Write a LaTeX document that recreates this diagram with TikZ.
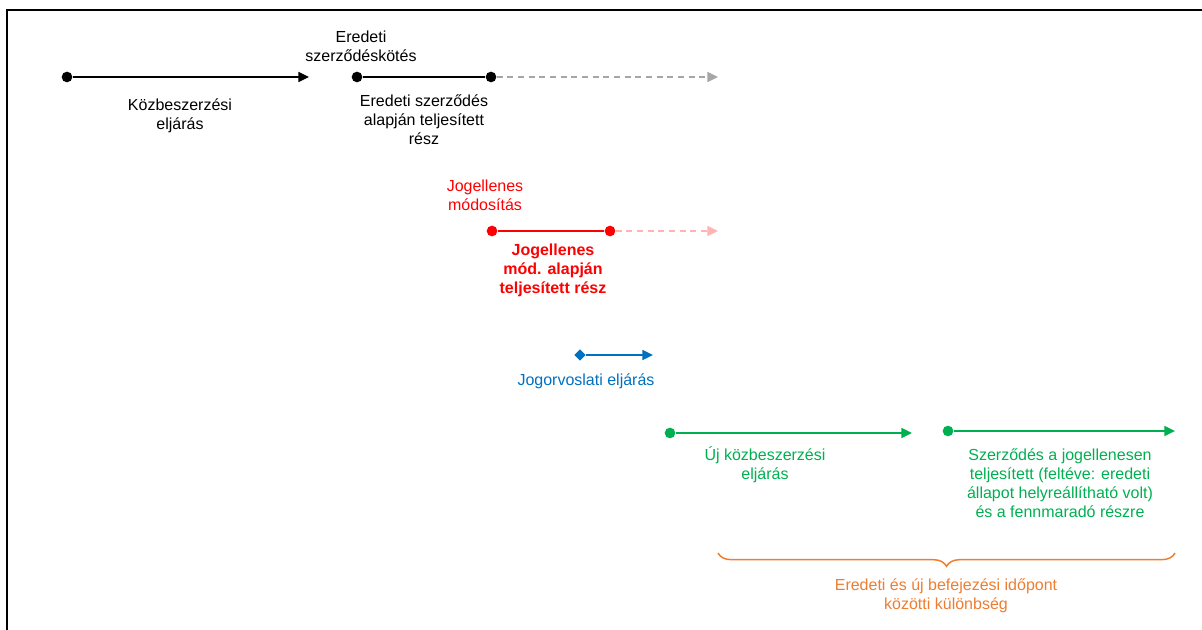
\documentclass[tikz,border=0pt]{standalone}
\usepackage{fontspec}
\setmainfont{Liberation Sans}
\usepackage{tikz}
\usetikzlibrary{arrows.meta,positioning,decorations.pathreplacing,shapes.geometric}
\definecolor{ink}{HTML}{000000}
\definecolor{fade}{HTML}{A6A6A6}
\definecolor{illeg}{HTML}{FF0000}
\definecolor{illegsoft}{HTML}{FFB3B3}
\definecolor{remedy}{HTML}{0070C0}
\definecolor{newproc}{HTML}{00B050}
\definecolor{gap}{HTML}{ED7D31}
\tikzset{
  dot/.style={circle,fill=#1,inner sep=0pt,minimum size=8pt},
  gem/.style={diamond,fill=#1,inner sep=0pt,minimum size=8.5pt},
  seg/.style={line width=1.1pt,color=#1},
  arr/.style={-{Triangle[length=8pt,width=7.5pt]},line width=1.1pt,color=#1},
  darr/.style={-{Triangle[length=8pt,width=7.5pt]},line width=1.1pt,color=#1,dash pattern=on 4.5pt off 3.5pt},
  lbl/.style={align=center,font=\fontsize{12}{14.3}\selectfont,text=#1,inner sep=0pt}}
\begin{document}
\begin{tikzpicture}[x=0.75pt,y=-0.75pt]
\useasboundingbox (0,0) rectangle (1202,630);
\draw[line width=1.8pt] (7,630) -- (7,10) -- (1202,10);
% original procedure and contract
\node[dot=ink] (p0) at (67,77) {};
\coordinate (p1) at (309,77);
\draw[arr=ink] (p0) -- (p1);
\node[lbl=ink] (lp) at (180,116) {Közbeszerzési\\eljárás};
\node[dot=ink] (c0) at (357,77) {};
\node[dot=ink] (c1) at (491,77) {};
\coordinate (c2) at (718,77);
\draw[seg=ink] (c0) -- (c1);
\draw[darr=fade] (c1) -- (c2);
\node[lbl=ink] (lc0) at (361,46) {Eredeti\\szerződéskötés};
\node[lbl=ink] (lc1) at (424,120) {Eredeti szerződés\\alapján teljesített\\rész};
% illegal modification
\node[dot=illeg] (m0) at (492,231) {};
\node[dot=illeg] (m1) at (610,231) {};
\coordinate (m2) at (718,231);
\draw[seg=illeg] (m0) -- (m1);
\draw[darr=illegsoft] (m1) -- (m2);
\node[lbl=illeg] (lm0) at (485,195) {Jogellenes\\módosítás};
\node[lbl=illeg,font=\fontsize{12}{14.3}\selectfont\bfseries] (lm1) at (553,270) {Jogellenes\\mód. alapján\\teljesített rész};
% remedy
\node[gem=remedy] (r0) at (580,355) {};
\coordinate (r1) at (653,355);
\draw[arr=remedy] (r0) -- (r1);
\node[lbl=remedy] (lr) at (586,381) {Jogorvoslati eljárás};
% new procedure and contract
\node[dot=newproc] (n0) at (670,433) {};
\coordinate (n1) at (912,433);
\draw[arr=newproc] (n0) -- (n1);
\node[lbl=newproc] (ln0) at (765,465) {Új közbeszerzési\\eljárás};
\node[dot=newproc] (s0) at (948,431) {};
\coordinate (s1) at (1175,431);
\draw[arr=newproc] (s0) -- (s1);
\node[lbl=newproc] (ls) at (1060,483) {Szerződés a jogellenesen\\teljesített (feltéve: eredeti\\állapot helyreállítható volt)\\és a fennmaradó részre};
% difference
\coordinate (b0) at (718,553);
\coordinate (b1) at (1175,553);
\draw[gap,line width=1.1pt,decorate,decoration={brace,mirror,amplitude=10pt}] (b0) -- (b1);
\node[lbl=gap] (lb) at (946,596) {Eredeti és új befejezési időpont\\közötti különbség};
\end{tikzpicture}
\end{document}
